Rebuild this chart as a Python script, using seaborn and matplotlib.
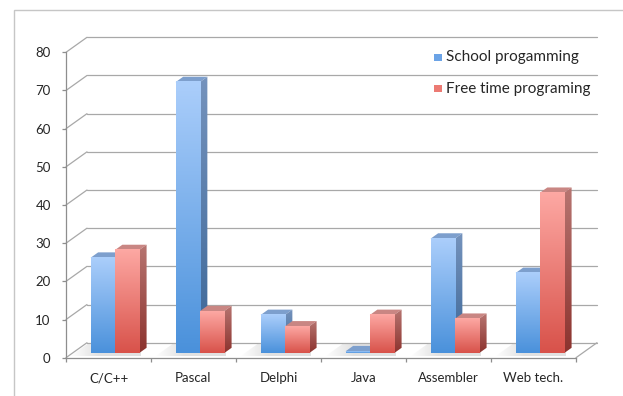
import numpy as np
import pandas as pd
import matplotlib
matplotlib.use("Agg")
import matplotlib.pyplot as plt
import seaborn as sns
from matplotlib.patches import Polygon, Rectangle
from matplotlib.lines import Line2D
from matplotlib.transforms import ScaledTranslation, IdentityTransform
from matplotlib.colors import to_rgb

# ---- data -------------------------------------------------------------
categories = ["C/C++", "Pascal", "Delphi", "Java", "Assembler", "Web tech."]
school = [25, 71, 10, 0.5, 30, 21]
free_time = [27, 11, 7, 10, 9, 42]
series_names = ["School progamming", "Free time programing"]
y_ticks = [0, 10, 20, 30, 40, 50, 60, 70, 80]

df = pd.DataFrame({
    "language": categories * 2,
    "share": school + free_time,
    "series": [series_names[0]] * len(categories) + [series_names[1]] * len(categories),
})

# ---- styling ----------------------------------------------------------
sns.set_style("white")
plt.rcParams["font.family"] = ["Lato", "DejaVu Sans"]
TEXT = "#262626"
GRID = "#a8a8a8"
AXIS = "#8e8e8e"

# face colours (top of gradient, bottom of gradient)
STYLE = {
    series_names[0]: dict(front=("#abcefb", "#4a91db"), side=("#7593bd", "#3b6697"),
                          top="#7d9fcd", key="#6ba3e6"),
    series_names[1]: dict(front=("#fda8a3", "#d8524a"), side=("#b77571", "#8c332e"),
                          top="#c98683", key="#ec7a73"),
}

W, H, DPI = 623, 396, 100
fig = plt.figure(figsize=(W / DPI, H / DPI), dpi=DPI)
fig.patch.set_facecolor("white")

# front plane of the 3-D box
ax = fig.add_axes([66 / W, 1 - 357.7 / H, 510 / W, 305.4 / H])
ax.set_facecolor("none")

sns.barplot(data=df, x="language", y="share", hue="series", order=categories,
            hue_order=series_names, palette=[STYLE[s]["key"] for s in series_names],
            width=0.57, saturation=1, errorbar=None, legend=False, ax=ax)

ax.set_xlim(-0.5, len(categories) - 0.5)
ax.set_ylim(0, 80)

n_cat = len(categories)
bars = list(ax.patches)
# seaborn adds the patches hue by hue, category by category
hue_of = {id(p): series_names[i // n_cat] for i, p in enumerate(bars)}

# depth of the box in pixels and the depth slice the bars occupy
DEPTH = np.array([21.0, 15.0])
F0, F1 = 0.30, 0.66


def offset(f):
    return ScaledTranslation(f * DEPTH[0] / DPI, f * DEPTH[1] / DPI, fig.dpi_scale_trans)


def px(x, y, f=0.0):
    return ax.transData.transform((x, y)) + f * DEPTH


def gradient(top, bottom, n=96):
    c0, c1 = np.array(to_rgb(top)), np.array(to_rgb(bottom))
    t = np.linspace(0, 1, n)[:, None]
    return (c0 * (1 - t) + c1 * t)[:, None, :]


ident = IdentityTransform()
x_lo, x_hi = ax.get_xlim()

# ---- back wall and floor ---------------------------------------------
for t in y_ticks:
    b0, b1 = px(x_lo, t, 1.0), px(x_hi, t, 1.0)
    ax.add_line(Line2D([b0[0], b1[0]], [b0[1], b1[1]], transform=ident, color=GRID,
                       lw=0.9, clip_on=False, zorder=0.5))
    f0 = px(x_lo, t)
    ax.add_line(Line2D([f0[0], b0[0]], [f0[1], b0[1]], transform=ident, color=GRID,
                       lw=0.9, clip_on=False, zorder=0.5))
r0, r1 = px(x_hi, 0), px(x_hi, 0, 1.0)
ax.add_line(Line2D([r0[0], r1[0]], [r0[1], r1[1]], transform=ident, color=GRID,
                   lw=0.9, clip_on=False, zorder=0.5))

# soft shadows on the floor behind each pair of bars
for c in range(n_cat):
    pair = [p for p in bars if abs(p.get_x() + p.get_width() / 2 - c) < 0.5]
    xa = min(p.get_x() for p in pair)
    xb = max(p.get_x() + p.get_width() for p in pair)
    q = [px(xa, 0, F0 - 0.2) + (-16, 0), px(xb, 0, F0 - 0.2) + (6, 0),
         px(xb, 0, F1 + 0.3) + (6, 0), px(xa, 0, F1 + 0.3) + (-16, 0)]
    shadow = Polygon(q, closed=True, transform=ident, facecolor="none", edgecolor="none")
    ax.add_patch(shadow)
    shadow.set_clip_on(False)
    xs = np.linspace(0, 1, 64)
    rgba = np.zeros((1, 64, 4))
    rgba[..., :3] = 0.74
    rgba[..., 3] = 0.45 * np.clip(xs / 0.4, 0, 1)
    ys = [v[1] for v in q]
    im = ax.imshow(rgba, extent=(q[0][0], q[1][0], min(ys), max(ys)), transform=ident,
                   aspect="auto", interpolation="bilinear", zorder=0.8)
    im.set_clip_path(shadow)
    im.set_clip_box(fig.bbox)

# ---- bars -------------------------------------------------------------
front_tr = ax.transData + offset(F0)
for z, p in enumerate(sorted(bars, key=lambda p: p.get_x())):
    st = STYLE[hue_of[id(p)]]
    x, w, h = p.get_x(), p.get_width(), p.get_height()
    base = 2 + z * 0.1
    # top face
    top = Polygon([px(x, h, F0), px(x + w, h, F0), px(x + w, h, F1), px(x, h, F1)],
                  closed=True, transform=ident, facecolor=st["top"], edgecolor="none",
                  zorder=base)
    ax.add_patch(top)
    top.set_clip_on(False)
    # side face
    side_pts = [px(x + w, 0, F0), px(x + w, h, F0), px(x + w, h, F1), px(x + w, 0, F1)]
    side = Polygon(side_pts, closed=True, transform=ident, facecolor="none",
                   edgecolor="none", zorder=base)
    ax.add_patch(side)
    side.set_clip_on(False)
    im = ax.imshow(gradient(*st["side"]), extent=(side_pts[0][0], side_pts[2][0],
                                                  side_pts[0][1], side_pts[2][1]),
                   transform=ident, aspect="auto", interpolation="bilinear",
                   zorder=base + 0.01)
    im.set_clip_path(side)
    im.set_clip_box(fig.bbox)
    # front face: the seaborn bar itself, pushed into the box
    p.set_transform(front_tr)
    p.set_facecolor("none")
    p.set_edgecolor("none")
    p.set_zorder(base + 0.03)
    im = ax.imshow(gradient(*st["front"]), extent=(x, x + w, 0, h), transform=front_tr,
                   aspect="auto", interpolation="bilinear", zorder=base + 0.02)
    im.set_clip_path(p)
    im.set_clip_box(fig.bbox)

ax.set_xlim(x_lo, x_hi)
ax.set_ylim(0, 80)

# ---- axes -------------------------------------------------------------
sns.despine(ax=ax, top=True, right=True)
for s in ("left", "bottom"):
    ax.spines[s].set_color(AXIS)
    ax.spines[s].set_linewidth(0.9)
    ax.spines[s].set_zorder(1)
ax.set_yticks(y_ticks)
ax.set_yticklabels([str(t) for t in y_ticks])
ax.set_xticks(range(n_cat))
ax.set_xticklabels(categories)
ax.set_xticks(np.arange(x_lo, x_hi + 0.01, 1.0), minor=True)
ax.tick_params(axis="y", length=3, width=0.9, color=AXIS, pad=8, labelsize=9.5,
               labelcolor=TEXT, left=True)
ax.tick_params(axis="x", which="major", length=0, pad=10.5, labelsize=9.5, labelcolor=TEXT)
ax.tick_params(axis="x", which="minor", length=3, width=0.9, color=AXIS, bottom=True)
ax.set_xlabel("")
ax.set_ylabel("")
ax.grid(False)

# ---- legend -----------------------------------------------------------
def fig_xy(x, y):
    return x / W, 1 - y / H

for row, name in enumerate(series_names):
    yc = 57.5 + row * 31
    kx, ky = fig_xy(434, yc + 3.5)
    fig.add_artist(Rectangle((kx, ky), 8 / W, 7 / H, transform=fig.transFigure,
                             facecolor=STYLE[name]["key"], edgecolor="none"))
    tx, ty = fig_xy(446, yc)
    fig.text(tx, ty, name, ha="left", va="center", fontsize=11, color=TEXT)

# outer frame of the chart area
fig.add_artist(Rectangle((14 / W, -0.05), 1.0, 1 - 10 / H + 0.05, transform=fig.transFigure,
                         fill=False, edgecolor="#c6c6c6", lw=1.0))

fig.savefig("out.png", dpi=DPI)
